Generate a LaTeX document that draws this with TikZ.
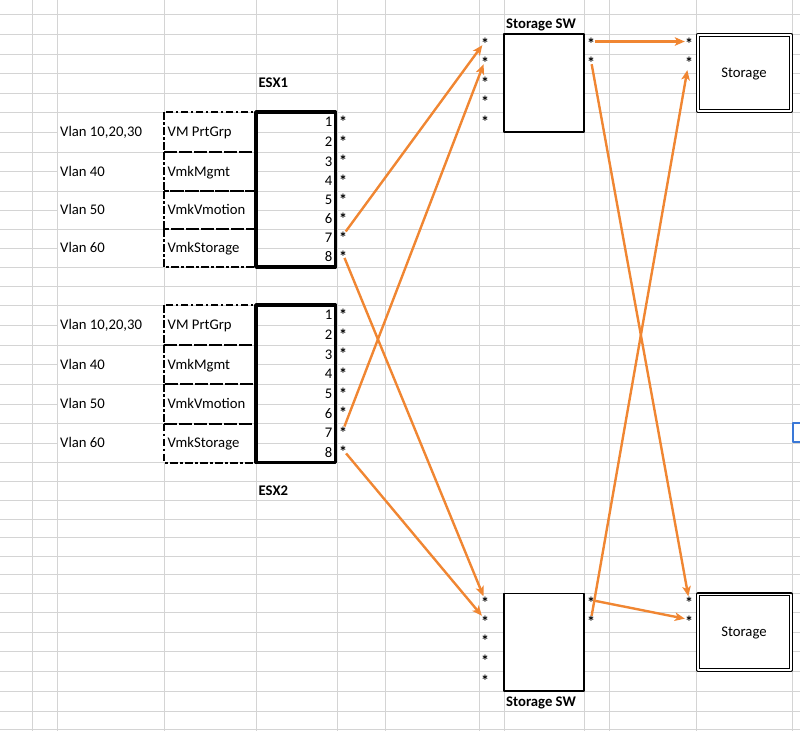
\documentclass[tikz,border=0pt]{standalone}
\usepackage{fontspec}
\setmainfont{Carlito}
\usetikzlibrary{arrows.meta}
\definecolor{cellgrid}{RGB}{212,212,212}
\definecolor{arroworange}{RGB}{240,134,50}
\definecolor{selblue}{RGB}{58,120,215}
\newcommand{\portstar}{\raisebox{-8pt}[0pt][0pt]{*}}

\begin{document}
\begin{tikzpicture}[
    x=1pt, y=-1pt,
    line join=round,
    gridline/.style={cellgrid, line width=1pt},
    txt/.style={font=\fontsize{14.7}{17}\selectfont, inner sep=0pt},
    boldtxt/.style={font=\fontsize{14.7}{17}\selectfont\bfseries, inner sep=0pt},
    star/.style={inner sep=0pt, minimum size=7pt, font=\fontsize{16}{18}\selectfont\bfseries},
    pgbox/.style={line width=2pt, dash pattern=on 7.5pt off 2.5pt on 2.5pt off 2.5pt},
    esxbox/.style={line width=3.5pt},
    swbox/.style={line width=1.2pt},
    stbox/.style={double, line width=1.1pt, double distance=1.6pt},
    link/.style={arroworange, line width=2.4pt, -{Stealth[length=10pt,width=8.5pt,inset=2.5pt]}},
]

% sheet rows (y of each grid line)
\def\rows{{14.5,34,54,73,93,112,132,152,171.5,191,210,229,248,267,286,305,325,345,364.5,384,404,423.5,443,462.5,481,500,519,537.5,556,574.5,593.5,612.5,632,651,671,691,711.5,729.5}}

\useasboundingbox (0,0) rectangle (800,731);

% ---- cell grid ----
\foreach \i in {0,...,37}
    \draw[gridline] (0,{\rows[\i]}) -- (800,{\rows[\i]});
\foreach \x in {32,57,164,256,337,385,479,504,584,609,696,792}
    \draw[gridline] (\x,0) -- (\x,731);

% merged cells
\foreach \a/\b in {5/7,7/9,9/11,11/13,15/17,17/19,19/21,21/23}
    \fill[white] (57.6,{\rows[\a]+0.6}) rectangle (255.4,{\rows[\b]-0.6});
\foreach \r in {1,30}
    \fill[white] (504.6,{\rows[\r]+0.6}) rectangle (583.4,{\rows[\r+5]-0.6});
\foreach \r in {1,30}
    \fill[white] (696.6,{\rows[\r]+0.6}) rectangle (791.4,{\rows[\r+4]-0.6});

% ---- ESX hosts ----
\foreach \h/\r in {1/5,2/15} {
    \foreach \g/\vlan/\pg in {0/{Vlan 10,20,30}/{VM PrtGrp},1/{Vlan 40}/{VmkMgmt},2/{Vlan 50}/{VmkVmotion},3/{Vlan 60}/{VmkStorage}} {
        \pgfmathtruncatemacro\ra{\r+2*\g}
        \pgfmathtruncatemacro\rb{\ra+2}
        \pgfmathsetmacro\ya{\rows[\ra]}
        \pgfmathsetmacro\yb{\rows[\rb]}
        \draw[pgbox] (164,\ya) rectangle (256,\yb);
        \node[txt, anchor=base west] (vlan\h-\g) at (60,{(\ya+\yb)/2+4.5}) {\vlan};
        \node[txt, anchor=base west] (pg\h-\g) at (167.5,{(\ya+\yb)/2+4.5}) {\pg};
    }
    \draw[esxbox] (256,{\rows[\r]}) rectangle (335.5,{\rows[\r+8]});
    \foreach \p in {1,...,8} {
        \pgfmathtruncatemacro\rp{\r+\p}
        \node[txt, anchor=base east] (e\h-n\p) at (332.5,{\rows[\rp]-5.3}) {\p};
        \node[star] (e\h-s\p) at (343,{\rows[\rp]-12.8}) {\portstar};
    }
}
\node[boldtxt, anchor=base west] (esx1) at (258.5,{\rows[4]-5.7}) {ESX1};
\node[boldtxt, anchor=base west] (esx2) at (258.5,{\rows[25]-5}) {ESX2};

% ---- storage switches ----
\foreach \s/\r/\lr in {a/1/1,b/30/36} {
    \draw[swbox] (504,{\rows[\r]}) rectangle (584,{\rows[\r+5]});
    \node[boldtxt, anchor=base west] (sw\s) at (506,{\rows[\lr]-5.5}) {Storage SW};
    \foreach \k in {1,...,5}
        \node[star] (sw\s-l\k) at (485,{\rows[\r+\k]-12.5}) {\portstar};
    \foreach \k in {1,2}
        \node[star] (sw\s-r\k) at (591,{\rows[\r+\k]-12.5}) {\portstar};
}

% ---- storage arrays ----
\foreach \s/\r in {a/1,b/30} {
    \pgfmathsetmacro\ya{\rows[\r]}
    \pgfmathsetmacro\yb{\rows[\r+4]}
    \draw[stbox] (697.9,\ya+0.8) rectangle (791.1,\yb-1.2);
    \node[txt, anchor=base] (st\s) at (744,{(\ya+\yb)/2+4.3}) {Storage};
    \foreach \k in {1,2}
        \node[star] (st\s-\k) at (689,{\rows[\r+\k]-12.5}) {\portstar};
}

% ---- links ----
\draw[link] (e1-s7) -- (swa-l1);
\draw[link] (e2-s7) -- (swa-l2);
\draw[link] (e1-s8) -- (swb-l1);
\draw[link] (e2-s8) -- (swb-l2);
\draw[link] (swa-r1) -- (sta-1);
\draw[link] (swa-r2) -- (stb-1);
\draw[link, shorten >=6pt] (swb-r2) -- (sta-2);
\draw[link] (swb-r1) -- (stb-2);

% selection handle
\draw[selblue, line width=2.3pt] (800,423) -- (793,423) -- (793,442) -- (800,442);

\end{tikzpicture}
\end{document}
